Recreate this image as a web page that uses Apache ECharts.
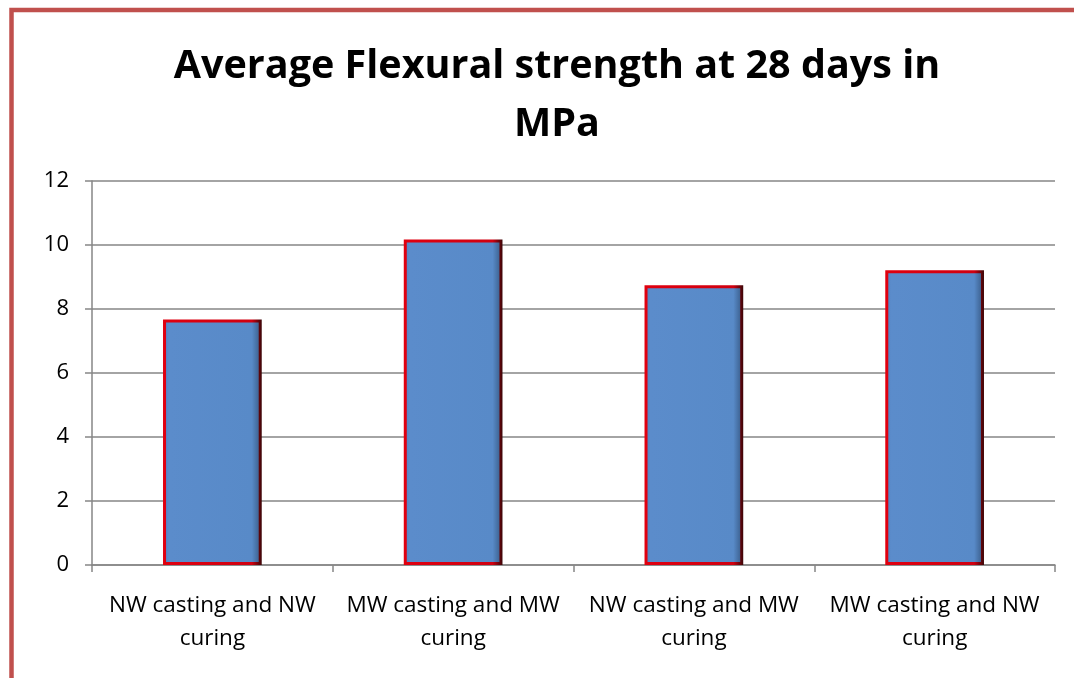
<!DOCTYPE html>
<html>
<head>
<meta charset="utf-8">
<script src="https://cdn.jsdelivr.net/npm/echarts@6/dist/echarts.min.js"></script>
<style>
  html, body { margin: 0; padding: 0; background: #fff; }
  #chart { width: 1074px; height: 678px; }
</style>
</head>
<body>
<div id="chart"></div>
<script>
// values
const categories = [
  'NW casting and NW\ncuring',
  'MW casting and MW\ncuring',
  'NW casting and MW\ncuring',
  'MW casting and NW\ncuring'
]
const strength = [7.67, 10.17, 8.74, 9.21]
const yTicks = { min: 0, max: 12, interval: 2 }

const chart = echarts.init(document.getElementById('chart'))

// bevelled blue look of the original bars
const barFill = new echarts.graphic.LinearGradient(0, 0, 1, 0, [
  { offset: 0, color: '#4f7fbf' },
  { offset: 0.06, color: '#5b8ccb' },
  { offset: 0.9, color: '#588ac8' },
  { offset: 1, color: '#34557f' }
])
const barEdge = new echarts.graphic.LinearGradient(0, 0, 1, 0, [
  { offset: 0, color: '#e0000f' },
  { offset: 0.9, color: '#d00010' },
  { offset: 1, color: '#3a0608' }
])

chart.setOption({
  animation: false,
  title: {
    text: 'Average Flexural strength at 28 days in\nMPa',
    left: 552,
    textAlign: 'center',
    top: 33,
    textStyle: {
      fontFamily: 'Open Sans',
      fontWeight: 'bold',
      fontSize: 39.5,
      lineHeight: 58,
      color: '#000'
    }
  },
  graphic: [
    {
      type: 'rect',
      shape: { x: 11.5, y: 10, width: 1200, height: 900 },
      style: { fill: 'none', stroke: '#c0504d', lineWidth: 4.5 },
      silent: true
    }
  ],
  grid: { left: 92, right: 19, top: 181, bottom: 113 },
  xAxis: {
    type: 'category',
    data: categories,
    axisLine: { lineStyle: { color: '#868686', width: 1.5 } },
    axisTick: { show: true, length: 7, lineStyle: { color: '#868686', width: 1.5 } },
    axisLabel: {
      interval: 0,
      margin: 24,
      fontFamily: 'Open Sans',
      fontSize: 22.5,
      lineHeight: 33,
      color: '#000'
    }
  },
  yAxis: {
    type: 'value',
    min: yTicks.min,
    max: yTicks.max,
    interval: yTicks.interval,
    axisLine: { show: true, lineStyle: { color: '#868686', width: 1.5 } },
    axisTick: { show: true, length: 7, lineStyle: { color: '#868686', width: 1.5 } },
    axisLabel: {
      margin: 23,
      fontFamily: 'Open Sans',
      fontSize: 22,
      color: '#000'
    },
    splitLine: { lineStyle: { color: '#868686', width: 1.5 } }
  },
  series: [
    {
      type: 'bar',
      data: strength,
      barWidth: '41%',
      itemStyle: {
        color: barFill,
        borderColor: barEdge,
        borderWidth: 3
      }
    }
  ]
})
</script>
</body>
</html>
